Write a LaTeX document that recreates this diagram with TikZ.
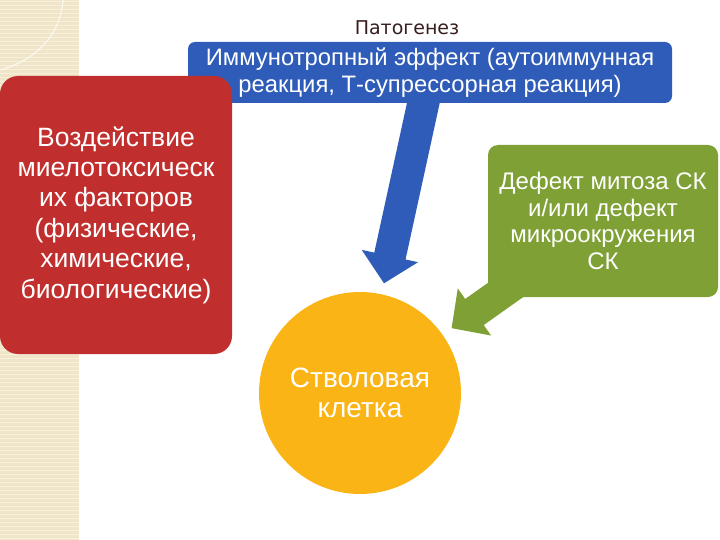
\documentclass[tikz,border=0pt]{standalone}
\usepackage{fontspec}
\setmainfont{Liberation Sans}
\newfontfamily\titlefont{DejaVu Sans}
\usetikzlibrary{arrows.meta, backgrounds}
\definecolor{boxblue}{RGB}{46,92,184}
\definecolor{boxred}{RGB}{192,47,46}
\definecolor{boxgreen}{RGB}{126,160,52}
\definecolor{cellyellow}{RGB}{251,180,22}
\definecolor{stripbeige}{RGB}{240,229,199}
\definecolor{titlebrown}{RGB}{55,30,30}
\tikzset{
  heading/.style = {text=titlebrown, font=\titlefont\fontsize{19}{22}\selectfont},
  factor/.style  = {fill=#1, text=white, align=center, inner sep=0pt},
  immune/.style  = {factor=boxblue, rounded corners=7pt, minimum width=484, minimum height=61,
                    font=\fontsize{23.8}{27}\selectfont},
  myelo/.style   = {factor=boxred, rounded corners=18pt, minimum width=232, minimum height=278,
                    font=\fontsize{26.5}{30.4}\selectfont},
  niche/.style   = {factor=boxgreen, rounded corners=10pt, minimum width=230, minimum height=152,
                    font=\fontsize{24}{26.5}\selectfont},
  cell/.style    = {factor=cellyellow, circle, minimum size=202, font=\fontsize{28}{29.5}\selectfont},
  arr/.style     = {line width=32pt, shorten >=11pt, -{Triangle[length=28pt, width=56pt]}}
}
\begin{document}
\begin{tikzpicture}[x=1pt, y=-1pt]
  \useasboundingbox (0,0) rectangle (720,540);
  % strip on the left
  \fill[stripbeige] (0,0) rectangle (79,540);
  \foreach \y in {2,6,...,538}
    \draw[white, opacity=0.45, line width=1pt] (0,\y) -- (79,\y);
  \draw[white, opacity=0.7, line width=1.2pt] (63,0) .. controls (60,40) and (30,62) .. (0,70);

  \node[heading] (title)  at (407,28)   {Патогенез};
  \node[immune]  (immune) at (430,72.5) {Иммунотропный эффект (аутоиммунная\\реакция, Т-супрессорная реакция)};
  \node[myelo]   (myelo)  at (116,215)  {Воздействие\\миелотоксическ\\их факторов\\(физические,\\химические,\\биологические)};
  \node[niche]   (niche)  at (603,221)  {Дефект митоза СК\\и/или дефект\\микроокружения\\СК};
  \node[cell]    (stem)   at (360,393)  {Стволовая\\клетка};

  \begin{pgfonlayer}{background}
    \draw[arr, boxblue]  (immune.center) -- (stem);
    \draw[arr, boxgreen] (niche.center) -- (stem);
  \end{pgfonlayer}
\end{tikzpicture}
\end{document}
